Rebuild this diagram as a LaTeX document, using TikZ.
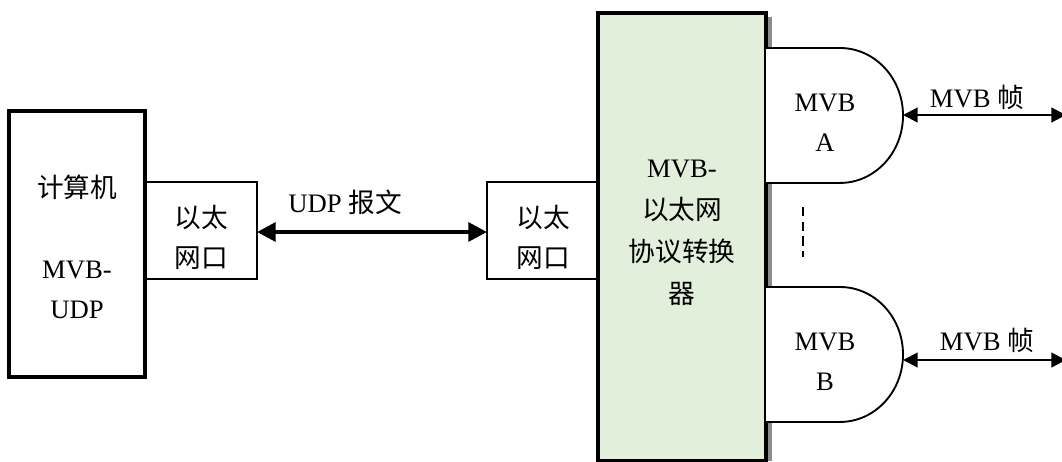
\documentclass[tikz,border=0pt]{standalone}
\usepackage{fontspec}
\setmainfont{Liberation Serif}
\newfontfamily\cjk{Noto Sans CJK SC}
\usetikzlibrary{arrows.meta}
\definecolor{lightgreen}{HTML}{E2EFDA}
\tikzset{
  thickbox/.style={draw=black, line width=2.6pt},
  thinbox/.style={draw=black, line width=1.4pt},
  lbl/.style={inner sep=0pt, font=\fontsize{20}{24}\selectfont, align=center},
  bigarrow/.style={line width=3pt, {Triangle[length=14pt,width=14pt]}-{Triangle[length=14pt,width=14pt]}},
  smallarrow/.style={line width=1.6pt, {Triangle[length=11pt,width=11pt]}-{Triangle[length=11pt,width=11pt]}},
}
\begin{document}
\begin{tikzpicture}[x=0.75pt,y=-0.75pt]
\useasboundingbox (0,0) rectangle (1062,461);
% computer box
\draw[thickbox] (9,111) rectangle (145,377);
\node[lbl] (pc) at (77,187) {\cjk 计算机};
\node[lbl] (pc2) at (77,290) {MVB-\\[6pt]UDP};
% left port
\draw[thinbox] (145,182) rectangle (257,279);
\node[lbl] (lport) at (201,237) {\cjk 以太\\[6pt]\cjk 网口};
\coordinate (la) at (257,232);
% right port
\draw[thinbox] (487,182) rectangle (598,279);
\node[lbl] (rport) at (543,237) {\cjk 以太\\[6pt]\cjk 网口};
\coordinate (ra) at (487,232);
\draw[bigarrow] (la) -- (ra);
\node[lbl] (udp) at (345,202) {UDP {\cjk 报文}};
% shadow + converter box
\fill[gray!90] (766,17) rectangle (772,461);
\draw[thickbox, fill=lightgreen] (598,13) rectangle (766,461);
\node[lbl] (conv) at (682,233) {MVB-\\[7.5pt]\cjk 以太网\\[7.5pt]\cjk 协议转换\\[7.5pt]\cjk 器};
% MVB A
\draw[thinbox, fill=white] (766,48) -- (840,48) arc[start angle=90, end angle=-90, x radius=47.25pt, y radius=50.6pt] -- (766,183);
\node[lbl] (mvba) at (825,123) {MVB\\[6pt]A};
\coordinate (aa) at (903,115);
\coordinate (ae) at (1066,115);
\draw[smallarrow] (aa) -- (ae);
\node[lbl] (fa) at (977,97) {MVB {\cjk 帧}};
% dashed
\coordinate (d1) at (803,207);
\coordinate (d2) at (803,257);
\draw[line width=1.5pt, dash pattern=on 7pt off 4pt] (d1) -- (d2);
% MVB B
\draw[thinbox, fill=white] (766,287) -- (840,287) arc[start angle=90, end angle=-90, x radius=47.25pt, y radius=50.6pt] -- (766,422);
\node[lbl] (mvbb) at (825,362) {MVB\\[6pt]B};
\coordinate (ba) at (903,360);
\coordinate (be) at (1066,360);
\draw[smallarrow] (ba) -- (be);
\node[lbl] (fb) at (987,340) {MVB {\cjk 帧}};
\end{tikzpicture}
\end{document}
